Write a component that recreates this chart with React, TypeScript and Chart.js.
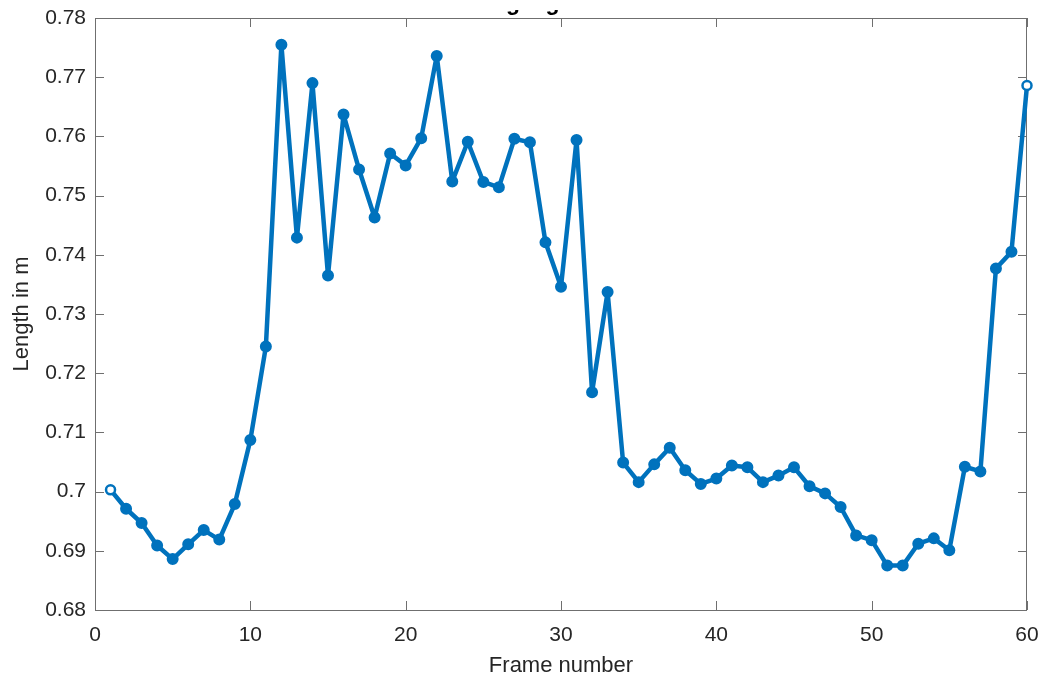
import React, { useEffect, useRef } from "react";
import { Chart, registerables } from "chart.js";

Chart.register(...registerables);

const TITLE = "Swing leg";
const X_LABEL = "Frame number";
const Y_LABEL = "Length in m";

const frames: number[] = Array.from({ length: 60 }, (_, i) => i + 1);

const lengths: number[] = [
  0.7003, 0.6971, 0.6947, 0.6909, 0.6886, 0.6911, 0.6935, 0.6919, 0.6979, 0.7087,
  0.7245, 0.7755, 0.7429, 0.769, 0.7365, 0.7637, 0.7544, 0.7463, 0.7571, 0.7551,
  0.7597, 0.7736, 0.7524, 0.7591, 0.7523, 0.7514, 0.7596, 0.759, 0.7421, 0.7346,
  0.7594, 0.7168, 0.7337, 0.7049, 0.7016, 0.7046, 0.7074, 0.7036, 0.7013, 0.7022,
  0.7044, 0.7041, 0.7016, 0.7027, 0.7041, 0.7009, 0.6997, 0.6974, 0.6926, 0.6918,
  0.6875, 0.6875, 0.6912, 0.6921, 0.6901, 0.7042, 0.7034, 0.7377, 0.7405, 0.7686,
];

const X_MIN = 0;
const X_MAX = 60;
const X_STEP = 10;
const Y_MIN = 0.68;
const Y_MAX = 0.78;
const Y_STEP = 0.01;

const LINE_COLOR = "#0072BD";
const AXIS_COLOR = "#6f6f6f";
const TEXT_COLOR = "#262626";
const FONT = "'Liberation Sans', Arial, Helvetica, sans-serif";

const boxTicksPlugin = {
  id: "boxTicks",
  beforeDatasetsDraw(chart: any) {
    const { ctx, chartArea, scales } = chart;
    const { left, right, top, bottom } = chartArea;
    ctx.save();
    ctx.strokeStyle = AXIS_COLOR;
    ctx.lineWidth = 1;
    ctx.strokeRect(left + 0.5, top + 0.5, right - left - 1, bottom - top);
    const len = 9;
    ctx.beginPath();
    scales.x.ticks.forEach((t: any) => {
      const px = Math.round(scales.x.getPixelForValue(t.value)) + 0.5;
      ctx.moveTo(px, bottom);
      ctx.lineTo(px, bottom - len);
      ctx.moveTo(px, top);
      ctx.lineTo(px, top + len);
    });
    scales.y.ticks.forEach((t: any) => {
      const py = Math.round(scales.y.getPixelForValue(t.value)) + 0.5;
      ctx.moveTo(left, py);
      ctx.lineTo(left + len, py);
      ctx.moveTo(right, py);
      ctx.lineTo(right - len, py);
    });
    ctx.stroke();

    // title (only its lower part is visible in the reference)
    ctx.beginPath();
    ctx.rect(0, 10, chart.width, top - 10);
    ctx.clip();
    ctx.fillStyle = "#000";
    ctx.font = `bold 23px ${FONT}`;
    ctx.textAlign = "center";
    ctx.textBaseline = "alphabetic";
    ctx.fillText(TITLE, (left + right) / 2 - 55, 10);
    ctx.restore();
  },
};

export default function App() {
  const canvasRef = useRef<HTMLCanvasElement | null>(null);

  useEffect(() => {
    document.body.style.margin = "0";
    document.body.style.overflow = "hidden";
    const canvas = canvasRef.current;
    if (!canvas) return;
    const n = lengths.length;
    const bg = lengths.map((_, i) => (i === 0 || i === n - 1 ? "#ffffff" : LINE_COLOR));
    const radius = lengths.map((_, i) => (i === 0 || i === n - 1 ? 4.5 : 5));
    const bw = lengths.map((_, i) => (i === 0 || i === n - 1 ? 2.5 : 2));
    const chart = new Chart(canvas, {
      type: "line",
      data: {
        datasets: [
          {
            data: frames.map((f, i) => ({ x: f, y: lengths[i] })),
            borderColor: LINE_COLOR,
            borderWidth: 4.5,
            borderJoinStyle: "round",
            borderCapStyle: "round",
            pointBackgroundColor: bg,
            pointBorderColor: LINE_COLOR,
            pointBorderWidth: bw,
            pointRadius: radius,
            tension: 0,
            clip: false,
          },
        ],
      },
      options: {
        animation: false,
        responsive: false,
        maintainAspectRatio: false,
        layout: { padding: { top: 18, right: 18, left: 9, bottom: 0 } },
        plugins: {
          legend: { display: false },
          tooltip: { enabled: false },
          title: { display: false },
        },
        scales: {
          x: {
            type: "linear",
            min: X_MIN,
            max: X_MAX,
            border: { display: false },
            grid: { display: false, drawTicks: false },
            ticks: {
              stepSize: X_STEP,
              color: TEXT_COLOR,
              font: { family: FONT, size: 21 },
              padding: 13,
              maxRotation: 0,
            },
            title: {
              display: true,
              text: X_LABEL,
              color: TEXT_COLOR,
              font: { family: FONT, size: 22 },
              padding: { top: 0, bottom: 5 },
            },
            afterFit(scale: any) {
              scale.height = 74;
              scale.paddingRight = 0;
              scale.paddingLeft = 0;
            },
          },
          y: {
            type: "linear",
            min: Y_MIN,
            max: Y_MAX,
            border: { display: false },
            grid: { display: false, drawTicks: false },
            ticks: {
              stepSize: Y_STEP,
              color: TEXT_COLOR,
              font: { family: FONT, size: 21 },
              padding: 9,
              callback: (v: any) => String(Number(Number(v).toFixed(2))),
            },
            title: {
              display: true,
              text: Y_LABEL,
              color: TEXT_COLOR,
              font: { family: FONT, size: 22 },
              padding: { top: 0, bottom: 0 },
            },
            afterFit(scale: any) {
              scale.width = 86;
              scale.paddingTop = 0;
              scale.paddingBottom = 0;
            },
          },
        },
      },
      plugins: [boxTicksPlugin],
    });
    return () => chart.destroy();
  }, []);

  return (
    <div style={{ width: 1045, height: 684, background: "#fff" }}>
      <canvas ref={canvasRef} width={1045} height={684} style={{ display: "block" }} />
    </div>
  );
}
